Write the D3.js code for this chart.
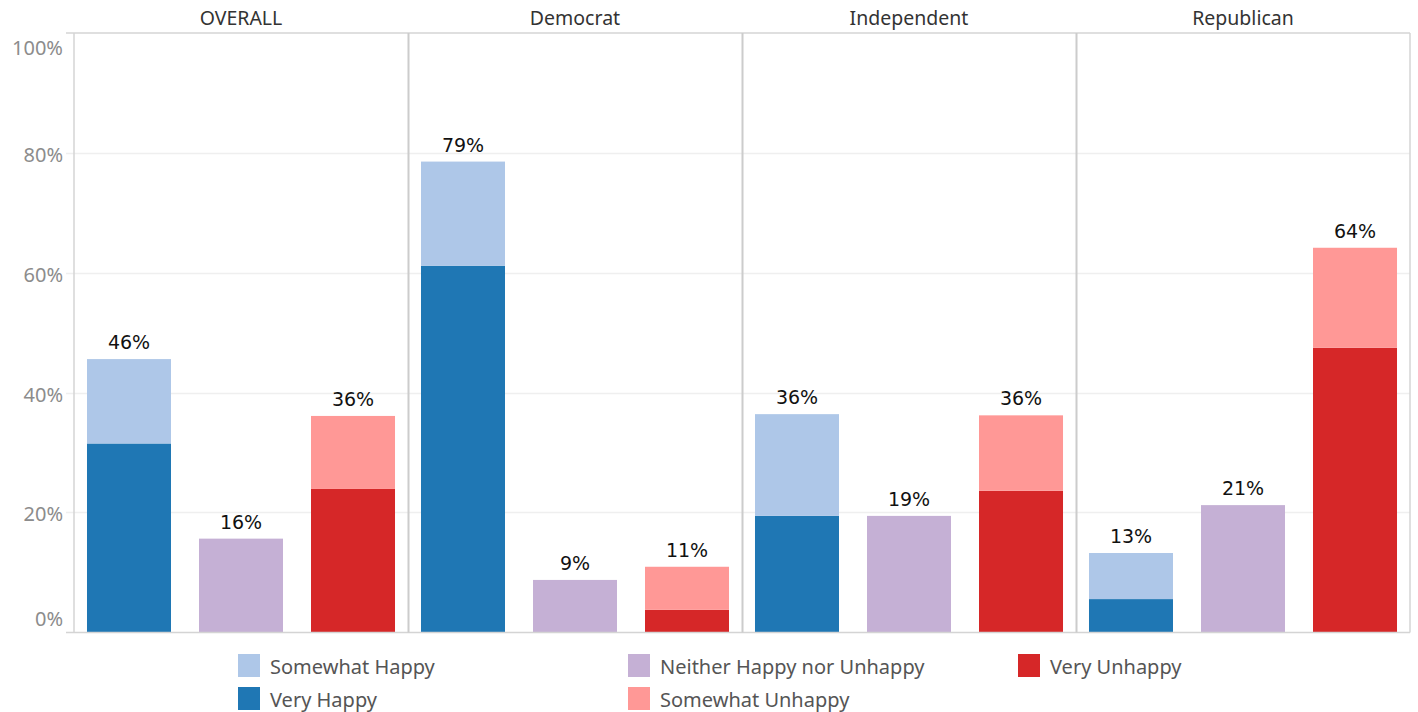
<!DOCTYPE html>
<html>
<head>
<meta charset="utf-8">
<script src="https://cdn.jsdelivr.net/npm/d3@7"></script>
<style>
  html, body { margin: 0; padding: 0; background: #fff; }
  svg { display: block; }
</style>
</head>
<body>
<svg id="chart" width="1418" height="712"></svg>
<script>
// ---- Data ----
const panels = ["OVERALL", "Democrat", "Independent", "Republican"];
const categories = ["Happy", "Neither", "Unhappy"];
const veryHappy       = [31.5, 61.2, 19.4, 5.5];
const somewhatHappy   = [14.1, 17.4, 17.0, 7.7];
const neitherVals     = [15.6, 8.7, 19.4, 21.2];
const veryUnhappy     = [23.9, 3.7, 23.6, 47.5];
const somewhatUnhappy = [12.2, 7.2, 12.6, 16.7];
const yTicks = [0, 20, 40, 60, 80, 100];
const legendItems = ["Somewhat Happy", "Very Happy", "Neither Happy nor Unhappy", "Somewhat Unhappy", "Very Unhappy"];

const colors = {
  "Very Happy": "#1f77b4",
  "Somewhat Happy": "#aec7e8",
  "Neither Happy nor Unhappy": "#c5b0d5",
  "Very Unhappy": "#d62728",
  "Somewhat Unhappy": "#ff9896"
};

// build segments
const segments = [];
const totals = [];
panels.forEach((p, i) => {
  segments.push({panel: p, cat: "Happy", key: "Very Happy", y0: 0, y1: veryHappy[i]});
  segments.push({panel: p, cat: "Happy", key: "Somewhat Happy", y0: veryHappy[i], y1: veryHappy[i] + somewhatHappy[i]});
  segments.push({panel: p, cat: "Neither", key: "Neither Happy nor Unhappy", y0: 0, y1: neitherVals[i]});
  segments.push({panel: p, cat: "Unhappy", key: "Very Unhappy", y0: 0, y1: veryUnhappy[i]});
  segments.push({panel: p, cat: "Unhappy", key: "Somewhat Unhappy", y0: veryUnhappy[i], y1: veryUnhappy[i] + somewhatUnhappy[i]});
  totals.push({panel: p, cat: "Happy", v: veryHappy[i] + somewhatHappy[i]});
  totals.push({panel: p, cat: "Neither", v: neitherVals[i]});
  totals.push({panel: p, cat: "Unhappy", v: veryUnhappy[i] + somewhatUnhappy[i]});
});

// ---- Layout ----
const svg = d3.select("#chart");
const plotL = 74, plotR = 1410, plotT = 33.5, plotB = 632;

const xPanel = d3.scaleBand().domain(panels).range([plotL, plotR]).padding(0);
const xCat = d3.scaleBand().domain(categories).range([0, xPanel.bandwidth()])
  .paddingInner(0.25).paddingOuter(0.116);
const y = d3.scaleLinear().domain([0, 100]).range([plotB, plotT]);

const fontMain = "'Noto Sans', 'Open Sans', sans-serif";

// gridlines
svg.append("g").selectAll("line").data(yTicks.filter(t => t > 0 && t < 100)).join("line")
  .attr("x1", 66).attr("x2", plotR)
  .attr("y1", d => Math.round(y(d)) + 0.5).attr("y2", d => Math.round(y(d)) + 0.5)
  .attr("stroke", "#efefef").attr("stroke-width", 1.5);

// bars
svg.append("g").selectAll("rect").data(segments).join("rect")
  .attr("x", d => xPanel(d.panel) + xCat(d.cat))
  .attr("width", xCat.bandwidth())
  .attr("y", d => y(d.y1))
  .attr("height", d => y(d.y0) - y(d.y1))
  .attr("fill", d => colors[d.key]);

// value labels
svg.append("g").selectAll("text").data(totals).join("text")
  .attr("x", d => xPanel(d.panel) + xCat(d.cat) + xCat.bandwidth() / 2)
  .attr("y", d => y(d.v) - 10)
  .attr("text-anchor", "middle")
  .attr("font-family", "'DejaVu Sans', sans-serif")
  .attr("font-size", 19)
  .attr("fill", "#111")
  .text(d => d3.format(".0f")(d.v) + "%");

// frame
const frame = svg.append("g").attr("fill", "none").attr("stroke", "#d4d4d4");
frame.append("line").attr("x1", 66).attr("x2", plotR).attr("y1", plotT - 0.5).attr("y2", plotT - 0.5).attr("stroke-width", 1.5);
frame.append("line").attr("x1", 66).attr("x2", plotR).attr("y1", plotB + 0.5).attr("y2", plotB + 0.5).attr("stroke-width", 1.5);
frame.append("line").attr("x1", plotL).attr("x2", plotL).attr("y1", plotT - 0.5).attr("y2", plotB + 0.5).attr("stroke-width", 1.5);
frame.append("line").attr("x1", plotR).attr("x2", plotR).attr("y1", plotT - 0.5).attr("y2", plotB + 0.5).attr("stroke-width", 1.5);
frame.selectAll("line.div").data(panels.slice(1)).join("line").attr("class", "div")
  .attr("x1", d => xPanel(d) + 0.5).attr("x2", d => xPanel(d) + 0.5)
  .attr("y1", plotT - 0.5).attr("y2", plotB + 0.5)
  .attr("stroke", "#cccccc").attr("stroke-width", 2);

// panel headers
svg.append("g").selectAll("text").data(panels).join("text")
  .attr("x", d => xPanel(d) + xPanel.bandwidth() / 2)
  .attr("y", 25)
  .attr("text-anchor", "middle")
  .attr("font-family", fontMain)
  .attr("font-size", 19.5)
  .attr("fill", "#333")
  .text(d => d);

// y axis labels
svg.append("g").selectAll("text").data(yTicks).join("text")
  .attr("x", 63)
  .attr("y", d => d === 100 ? y(d) + 21.5 : d === 0 ? y(d) - 6 : y(d) + 9)
  .attr("text-anchor", "end")
  .attr("font-family", fontMain)
  .attr("font-size", 20)
  .attr("fill", "#8c8c8c")
  .text(d => d + "%");

// legend
const legendPos = [
  {x: 238, y: 654}, {x: 238, y: 687},
  {x: 628, y: 654}, {x: 628, y: 687},
  {x: 1018, y: 654}
];
const lg = svg.append("g").selectAll("g").data(legendItems).join("g")
  .attr("transform", (d, i) => `translate(${legendPos[i].x},${legendPos[i].y})`);
lg.append("rect").attr("width", 22).attr("height", 23).attr("fill", d => colors[d]);
lg.append("text").attr("x", 32).attr("y", 20)
  .attr("font-family", fontMain).attr("font-size", 20).attr("fill", "#555")
  .text(d => d);
</script>
</body>
</html>
